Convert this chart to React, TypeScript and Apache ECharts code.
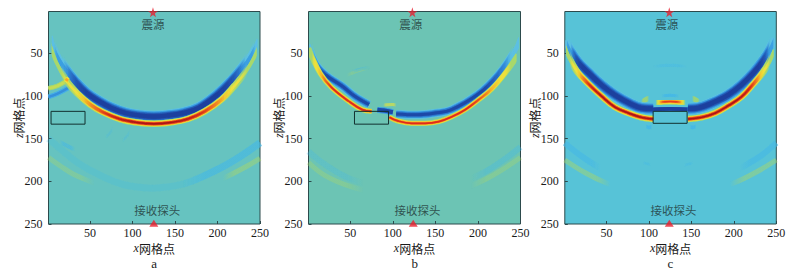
import React, { useEffect, useRef } from "react";
import * as echarts from "echarts";

type P = number[][];

// ---------- tick labels ----------
const xTicks = [50, 100, 150, 200, 250];
const zTicks = [50, 100, 150, 200, 250];

// ---------- panel a ----------
const aBlue: P = [[3,30],[9,50],[20,68],[32,83],[45,96],[60,106],[75,114],[92,120],[110,123],[125,124],[140,123],[160,120],[178,114],[198,100],[217,82],[230,67],[241,51],[249,34]];
const aRed: P = [[2,38],[10,60],[22,82],[35,97],[50,110],[65,119],[85,127],[105,131],[125,132.5],[145,131],[165,127],[185,118],[205,104],[220,88],[233,72],[243,55],[249,42]];
const aStubBlue: P = [[1,101],[12,97],[25,90]];
const aStubGreen: P = [[1,91],[12,88],[24,81]];
const aSpot: P = [[21,80],[24,82]];
const aSlit: P = [[40,120],[40,131]];
const aLowBlueL: P = [[1,150],[15,162],[35,178],[60,192],[90,204],[124,208]];
const aLowBlueR: P = [[124,208],[160,203],[198,187],[225,172],[250,155]];
const aLowGreenL: P = [[1,172],[15,182],[31,192],[50,200],[75,210]];
const aLowGreenR: P = [[190,205],[210,195],[235,182],[250,173]];
const aFaint1: P = [[65,150],[72,145],[78,136],[80,125]];
const aFaint2: P = [[85,155],[95,145],[100,135]];
const aFaint3: P = [[8,150],[22,158],[38,165]];

// ---------- panel b ----------
const bBlueL: P = [[1,40],[9,62],[22,76],[40,88],[55,100],[72,110]];
const bBlueM: P = [[82,116],[90,117],[100,119]];
const bBlueR: P = [[104,121],[129,122],[150,120],[169,116],[200,98],[224,75],[243,48],[250,32]];
const bRedL: P = [[1,44],[5,54],[15,74],[28,90],[48,106],[64,116],[75,118]];
const bRedR: P = [[96,125],[105,129],[122,132],[138,132],[154,130],[170,124],[185,116],[200,105],[216,92],[233,72],[247,52]];
const bFaintBlue: P = [[45,75],[60,69],[80,66]];
const bFaintYellow: P = [[38,80],[55,72],[80,65]];
const bFaintTop: P = [[85,111],[100,110],[108,112]];
const bLowBlueL: P = [[1,165],[20,180],[50,197],[90,208]];
const bLowBlueR: P = [[170,205],[210,188],[250,160]];
const bLowGreenL: P = [[1,178],[20,193],[50,206],[90,216]];
const bLowGreenR: P = [[170,214],[210,197],[250,172]];

// ---------- panel c ----------
const cBlueL: P = [[1,35],[6,46],[16,60],[28,72],[44,87],[60,99],[78,109],[91,114],[105,115]];
const cBlueT: P = [[105,116],[125,115],[146,116]];
const cBlueR: P = [[146,115],[158,114],[175,108],[193,99],[209,87],[224,72],[236,57],[243,46],[249,33]];
const cRedL: P = [[1,42],[6,55],[16,72],[28,85],[44,100],[60,113],[76,120],[91,125],[105,127]];
const cRedR: P = [[146,127],[162,125],[178,120],[194,111],[209,101],[222,87],[233,74],[242,60],[248,46]];
const cTopRed: P = [[105,108],[115,107],[125,106.5],[135,107],[146,108]];
const cTopBlue: P = [[108,101],[125,99],[142,101]];
const cWingL: P = [[88,112],[95,105],[103,102]];
const cWingR: P = [[148,102],[156,105],[163,112]];
const cBotL: P = [[94,134],[100,137],[106,135]];
const cBotR: P = [[146,135],[152,137],[158,134]];
const cLowBlueL: P = [[1,155],[20,170],[40,183],[60,193]];
const cLowGreenL: P = [[1,175],[25,190],[50,202],[75,210]];
const cLowBlueR: P = [[190,193],[210,183],[232,170],[250,155]];
const cLowGreenR: P = [[175,210],[200,202],[225,190],[250,175]];
const cTopFaint: P = [[93,68],[110,65],[125,64],[140,65],[157,68]];
const cMidFaint: P = [[90,178],[100,180],[105,182]];
const cMidFaint2: P = [[138,182],[146,180],[155,178]];

// ---------- outlined boxes ----------
const boxA: P = [[4,118],[44,118],[44,133],[4,133],[4,118]];
const boxB: P = [[55,118],[95,118],[95,133],[55,133],[55,118]];
const boxC: P = [[105,118],[145,118],[145,132],[105,132],[105,118]];

// ---------- marks and captions ----------
const sourceX = [124, 123, 124];
const sourceZ = 2;
const receiverX = [125, 124, 124];
const receiverZ = 249;
const sourceLabel = "震源";
const receiverLabel = "接收探头";
const sourceLabelX = [124, 121, 121];
const sourceLabelZ = 16;
const receiverLabelX = [129, 129, 129];
const receiverLabelZ = 234;
const panelNames = ["a", "b", "c"];
const xName = "网格点";
const zName = "网格点";

const backgrounds = ["#66c3c0", "#6cc4b4", "#57c3d7"];
const grids = [
  { left: 48.5, width: 211.5 },
  { left: 308.5, width: 212 },
  { left: 564.8, width: 211.5 },
];
const SERIF = "'Liberation Serif', 'Times New Roman', serif";
const CJK = "'Noto Sans CJK SC', sans-serif";
const STAR = "path://M50 0 L61 35 L98 35 L68 57 L79 92 L50 70 L21 92 L32 57 L2 35 L39 35 Z";

const hexA = (hex: string, a: number) => {
  const n = parseInt(hex.slice(1), 16);
  return `rgba(${(n >> 16) & 255},${(n >> 8) & 255},${n & 255},${a})`;
};

// transparent up to part of the inset, then ramps to full strength
const faded = (c: string, inset: number, a = 1, startFade = true, endFade = true) => {
  const hold = inset * 0.55;
  return new echarts.graphic.LinearGradient(0, 0, 1, 0, [
    { offset: 0, color: hexA(c, startFade ? 0 : a) },
    { offset: hold, color: hexA(c, startFade ? 0 : a) },
    { offset: inset, color: hexA(c, a) },
    { offset: 1 - inset, color: hexA(c, a) },
    { offset: 1 - hold, color: hexA(c, endFade ? 0 : a) },
    { offset: 1, color: hexA(c, endFade ? 0 : a) },
  ]);
};

type Layer = [string, number, number, number?];

function stroke(i: number, pts: P, layers: Layer[], ends: [boolean, boolean] = [true, true]) {
  return layers.map(([c, w, inset, a]) => ({
    type: "line" as const,
    xAxisIndex: i,
    yAxisIndex: i,
    data: pts,
    smooth: 0.4,
    symbol: "none",
    silent: true,
    lineStyle: {
      width: w,
      cap: "butt" as const,
      color: inset === 0 ? hexA(c, a ?? 1) : faded(c, inset, a ?? 1, ends[0], ends[1]),
      shadowBlur: 1.5,
      shadowColor: hexA(c, 0.6),
    },
  }));
}

const blueMain: Layer[] = [
  ["#5cbfe2", 5, 0.01],
  ["#5cbfe2", 8, 0.04],
  ["#5cbfe2", 11.5, 0.1],
  ["#3a9fe2", 4, 0.035],
  ["#3a9fe2", 10, 0.12],
  ["#2b78cf", 8, 0.12],
  ["#2358b4", 6.5, 0.15],
  ["#1c3f9e", 4.5, 0.2],
];
const redMain: Layer[] = [
  ["#a8d86a", 3.5, 0.015],
  ["#a8d86a", 6.5, 0.1],
  ["#eee03a", 2.5, 0.1],
  ["#eee03a", 5.2, 0.18],
  ["#f6a824", 4, 0.24],
  ["#e8401e", 3, 0.3],
  ["#a81414", 1.4, 0.42],
];
const blueThin: Layer[] = [
  ["#5cbfe2", 4.5, 0.015],
  ["#5cbfe2", 8, 0.1],
  ["#3a9fe2", 6.5, 0.14],
  ["#2b78cf", 5, 0.18],
  ["#1f4aa8", 3, 0.3],
];
const redThin: Layer[] = [
  ["#a8d86a", 5.2, 0.015],
  ["#eee03a", 4, 0.1],
  ["#f6a824", 3, 0.25],
  ["#e02c1a", 1.8, 0.38],
];
const softBlue = (w: number, a = 0.5, inset = 0.35): Layer[] => [["#45b8e6", w, inset, a]];
const softGreen = (w: number, a = 0.5, inset = 0.35): Layer[] => [["#a6d56a", w, inset, a]];

function box(i: number, pts: P) {
  return {
    type: "line" as const,
    xAxisIndex: i,
    yAxisIndex: i,
    data: pts,
    symbol: "none",
    silent: true,
    lineStyle: { width: 1, color: "#12302f" },
  };
}

function marks(i: number) {
  const common = { xAxisIndex: i, yAxisIndex: i, silent: true, clip: false, z: 5 };
  const text = (v: number[], s: string) => ({
    ...common,
    type: "scatter" as const,
    symbolSize: 0,
    data: [v],
    label: {
      show: true,
      position: "inside" as const,
      formatter: s,
      fontFamily: CJK,
      fontSize: 11.5,
      color: "#1f3535",
    },
  });
  return [
    { ...common, type: "scatter" as const, symbol: STAR, symbolSize: 10, itemStyle: { color: "#e8212f" }, data: [[sourceX[i], sourceZ]] },
    { ...common, type: "scatter" as const, symbol: "triangle", symbolSize: [9, 7], itemStyle: { color: "#e8212f" }, data: [[receiverX[i], receiverZ]] },
    text([sourceLabelX[i], sourceLabelZ], sourceLabel),
    text([receiverLabelX[i], receiverLabelZ], receiverLabel),
  ];
}

const seriesA = [
  ...stroke(0, aLowBlueL, softBlue(7, 0.16, 0), [false, false]),
  ...stroke(0, aLowBlueR, softBlue(7, 0.16, 0), [false, false]),
  ...stroke(0, aLowBlueR, softBlue(7, 0.4, 0.5), [true, false]),
  ...stroke(0, aLowGreenL, softGreen(5, 0.25, 0.5), [false, true]),
  ...stroke(0, aLowGreenR, softGreen(5, 0.35, 0.5), [true, false]),
  ...stroke(0, aFaint1, softBlue(2.5, 0.18)),
  ...stroke(0, aFaint2, softBlue(2.5, 0.18)),
  ...stroke(0, aFaint3, softBlue(4, 0.4)),
  ...stroke(0, aStubBlue, [["#45aee6", 4.5, 0], ["#3590dc", 2.2, 0]]),
  ...stroke(0, aStubGreen, [["#a8d86a", 4.5, 0], ["#c6dc55", 2.2, 0]]),
  ...stroke(0, aBlue, blueMain),
  ...stroke(0, aRed, redMain),
  ...stroke(0, aSpot, [["#f0e23a", 5, 0], ["#f6a824", 2.5, 0]]),
  ...stroke(0, aSlit, [["#45aee6", 1.4, 0]]),
  box(0, boxA),
  ...marks(0),
];

const seriesB = [
  ...stroke(1, bLowBlueL, softBlue(6, 0.2, 0.5), [false, true]),
  ...stroke(1, bLowBlueR, softBlue(6, 0.25, 0.5), [true, false]),
  ...stroke(1, bLowGreenL, softGreen(5, 0.25, 0.5), [false, true]),
  ...stroke(1, bLowGreenR, softGreen(5, 0.25, 0.5), [true, false]),
  ...stroke(1, bFaintYellow, softGreen(3, 0.25)),
  ...stroke(1, bFaintBlue, softBlue(3, 0.25)),
  ...stroke(1, bFaintTop, [["#c8dc55", 3, 0.3, 0.7]]),
  ...stroke(1, bBlueL, blueThin, [true, false]),
  ...stroke(1, bBlueM, [["#3a9fe2", 6, 0], ["#1f4aa8", 4, 0]]),
  ...stroke(1, bBlueR, blueThin, [false, true]),
  ...stroke(1, bRedL, redThin, [true, false]),
  ...stroke(1, bRedR, redThin, [false, true]),
  box(1, boxB),
  ...marks(1),
];

const seriesC = [
  ...stroke(2, cLowBlueL, softBlue(6, 0.45, 0.5), [false, true]),
  ...stroke(2, cLowBlueR, softBlue(6, 0.45, 0.5), [true, false]),
  ...stroke(2, cLowGreenL, softGreen(5, 0.35, 0.5), [false, true]),
  ...stroke(2, cLowGreenR, softGreen(5, 0.35, 0.5), [true, false]),
  ...stroke(2, cTopFaint, softBlue(3, 0.3)),
  ...stroke(2, cMidFaint, softBlue(2.5, 0.25)),
  ...stroke(2, cMidFaint2, softBlue(2.5, 0.25)),
  ...stroke(2, cWingL, softGreen(5, 0.75)),
  ...stroke(2, cWingR, softGreen(5, 0.75)),
  ...stroke(2, cTopBlue, softBlue(3, 0.8)),
  ...stroke(2, cBotL, softBlue(3.5, 0.8)),
  ...stroke(2, cBotR, softBlue(3.5, 0.8)),
  ...stroke(2, cTopRed, [["#a8d86a", 6, 0.12], ["#eee03a", 4.4, 0.18], ["#f6a824", 3, 0.26], ["#e8401e", 1.6, 0.34]]),
  ...stroke(2, cBlueL, blueMain, [true, false]),
  ...stroke(2, cBlueT, [["#2b78cf", 6, 0], ["#1c3f9e", 3.6, 0]]),
  ...stroke(2, cBlueR, blueMain, [false, true]),
  ...stroke(2, cRedL, redMain, [true, false]),
  ...stroke(2, cRedR, redMain, [false, true]),
  box(2, boxC),
  ...marks(2),
];

export default function App() {
  const ref = useRef<HTMLDivElement>(null);
  useEffect(() => {
    document.body.style.margin = "0";
    const chart = echarts.init(ref.current!, null, { renderer: "svg" });
    const axisFont = { fontFamily: SERIF, fontSize: 12, color: "#1a1a1a" };
    const nameRich = { i: { fontFamily: SERIF, fontStyle: "italic" as const, fontSize: 12, color: "#1a1a1a" } };
    chart.setOption({
      animation: false,
      grid: grids.map((g, i) => ({
        ...g,
        top: 11.5,
        height: 212.5,
        show: true,
        backgroundColor: backgrounds[i],
        borderColor: "#2c4a4c",
        borderWidth: 1,
      })),
      xAxis: grids.map((_, i) => ({
        type: "value",
        gridIndex: i,
        min: 1,
        max: 250,
        name: `{i|x}${xName}`,
        nameLocation: "middle",
        nameMoveOverlap: false,
        nameGap: 18,
        nameTextStyle: { fontFamily: CJK, fontSize: 12, lineHeight: 12, color: "#1a1a1a", rich: nameRich },
        axisLine: { show: false },
        splitLine: { show: false },
        axisTick: { inside: true, length: 3, lineStyle: { color: "#2c4a4c" }, customValues: xTicks },
        axisLabel: { ...axisFont, margin: 3, customValues: xTicks, showMinLabel: true, showMaxLabel: true },
      })),
      yAxis: grids.map((_, i) => ({
        type: "value",
        gridIndex: i,
        inverse: true,
        min: 1,
        max: 250,
        name: `{i|z}${zName}`,
        nameLocation: "middle",
        nameMoveOverlap: false,
        nameGap: 24,
        nameTextStyle: { fontFamily: CJK, fontSize: 12, lineHeight: 12, color: "#1a1a1a", rich: nameRich },
        axisLine: { show: false },
        splitLine: { show: false },
        axisTick: { inside: true, length: 3, lineStyle: { color: "#2c4a4c" }, customValues: zTicks },
        axisLabel: { ...axisFont, margin: 6, customValues: zTicks, showMinLabel: true, showMaxLabel: true },
      })),
      graphic: grids.map((g, i) => ({
        type: "text",
        left: g.left + g.width / 2 - 3,
        top: 257,
        style: { text: panelNames[i], fontFamily: SERIF, fontSize: 13, fill: "#1a1a1a" },
      })),
      series: [...seriesA, ...seriesB, ...seriesC],
    });
    return () => chart.dispose();
  }, []);
  return <div ref={ref} style={{ width: 798, height: 273 }} />;
}
